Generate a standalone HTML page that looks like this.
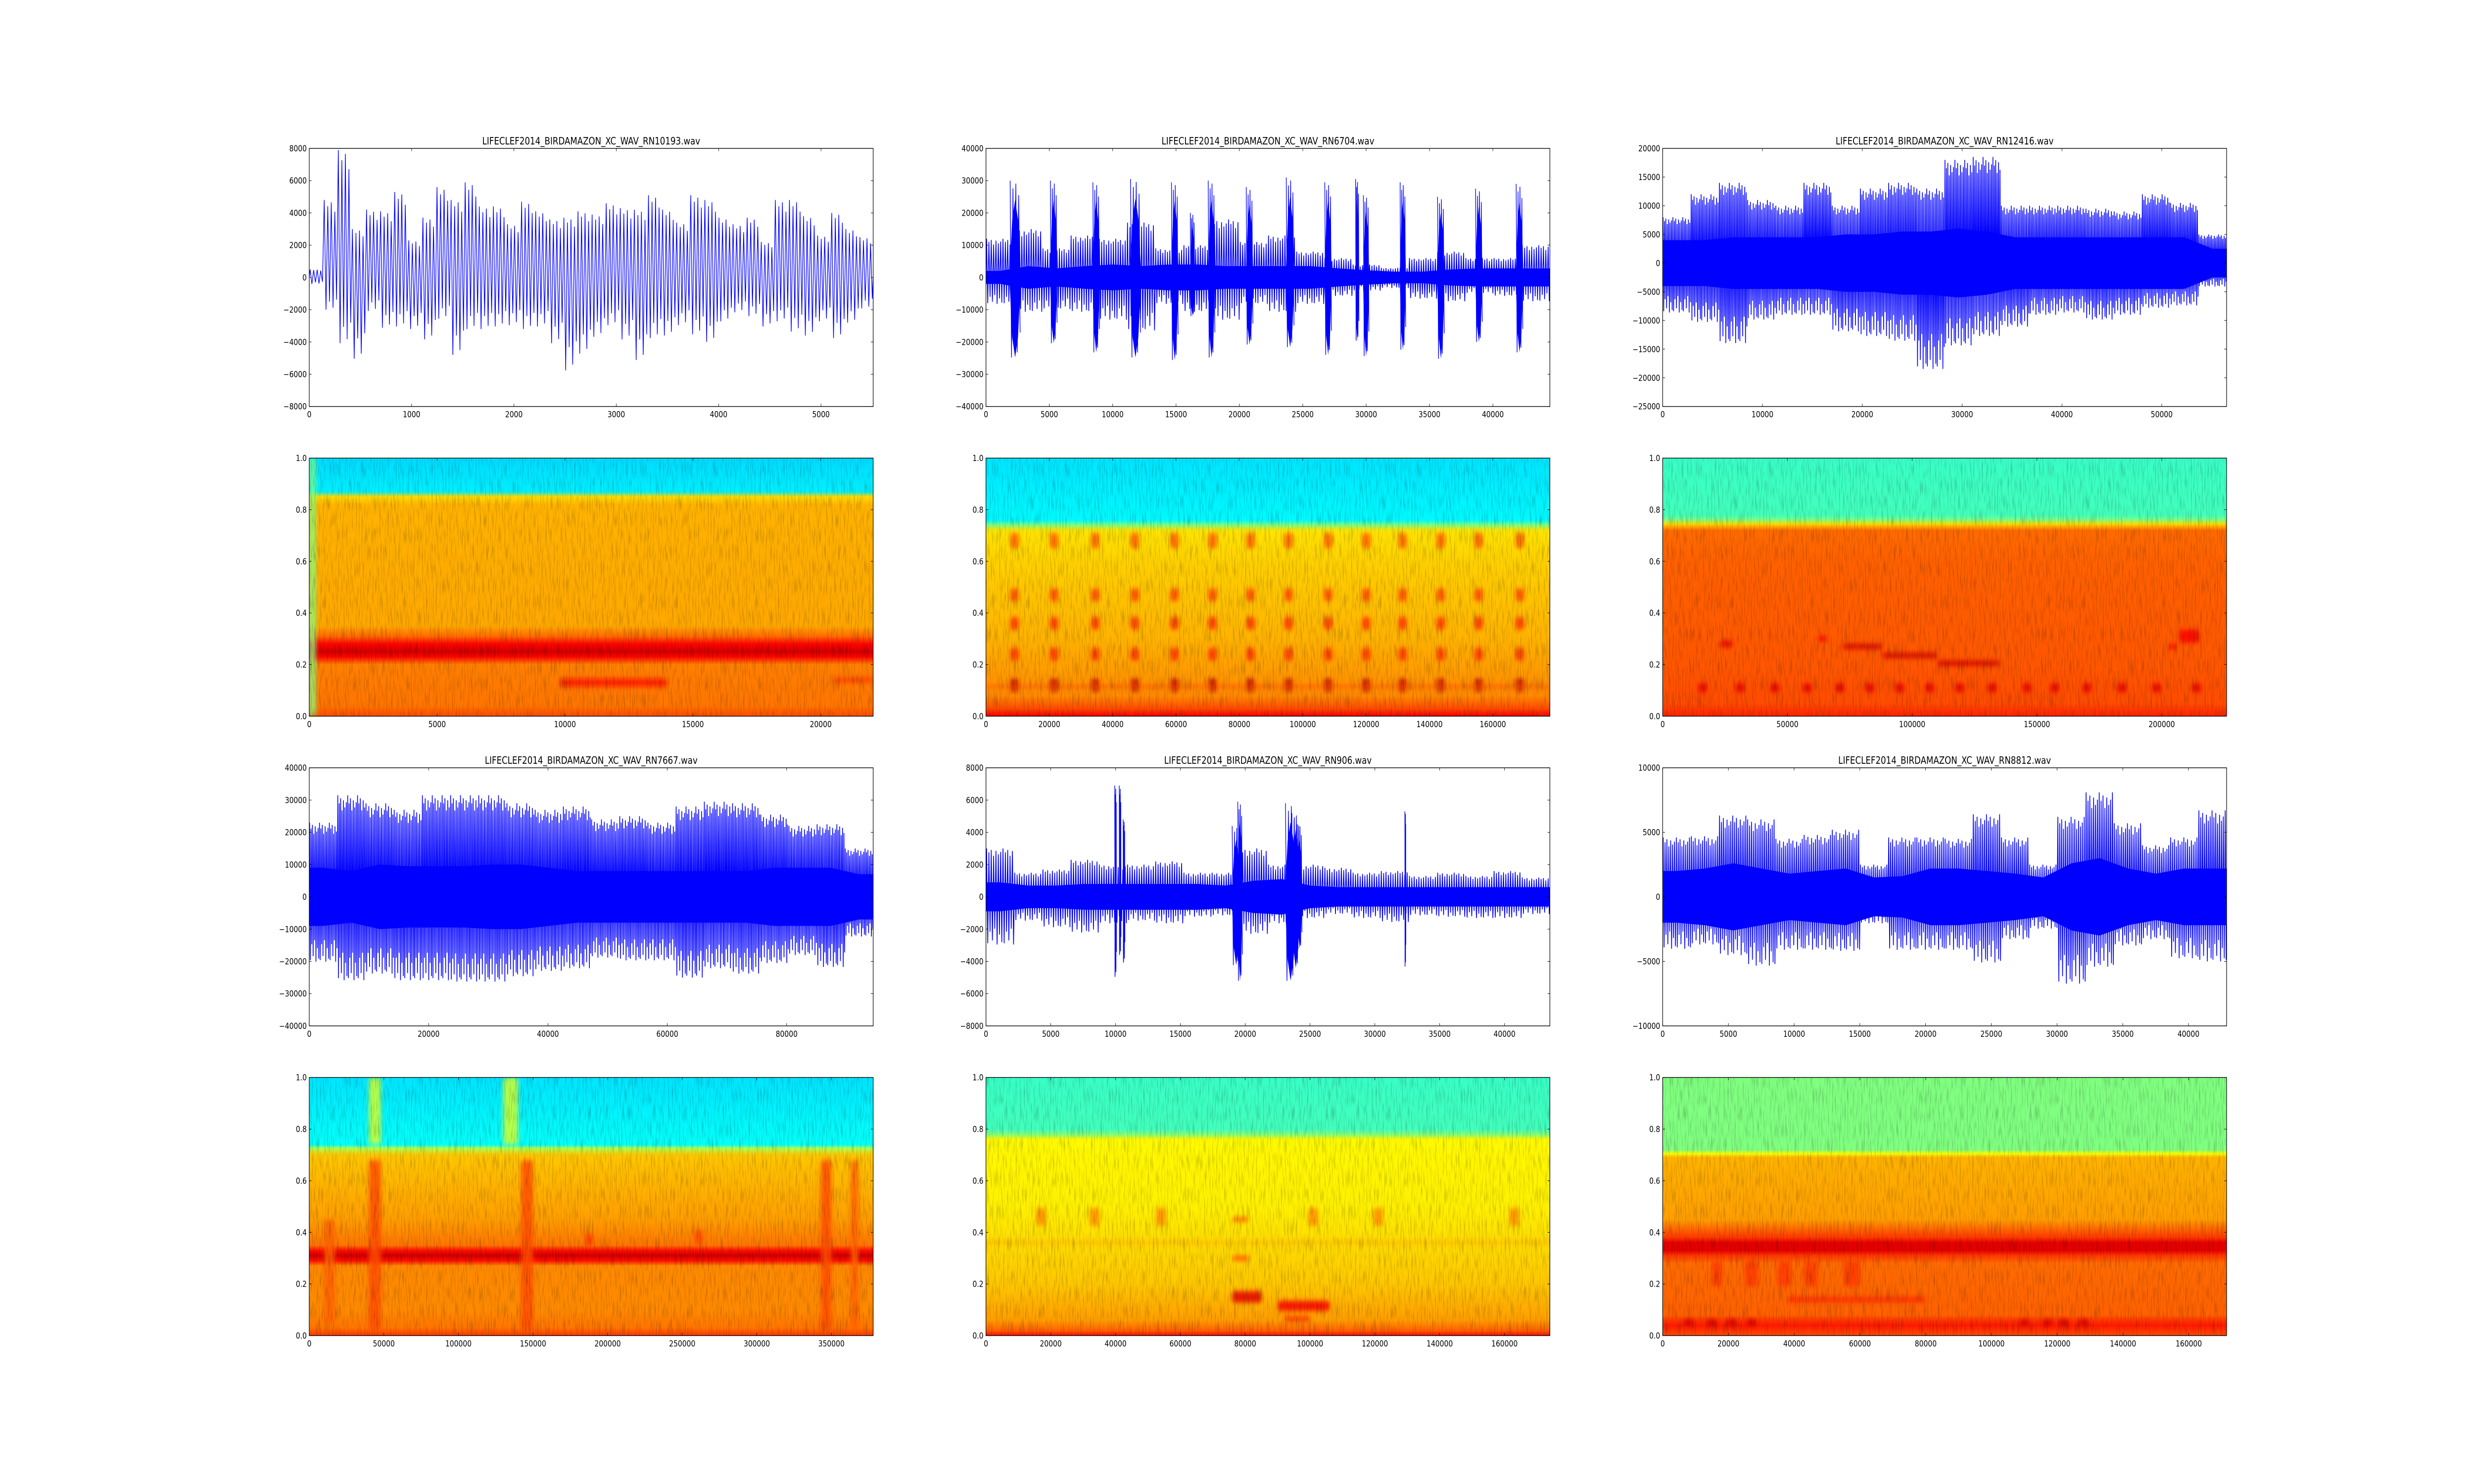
<!DOCTYPE html>
<html><head><meta charset="utf-8"><title>Bird recordings: waveforms and spectrograms</title>
<style>
html,body{margin:0;padding:0;background:#fff;overflow:hidden;width:100%;height:100%;}
svg{display:block;position:absolute;left:0;top:0;width:100vw;height:100vh;}
text{font-family:"DejaVu Sans","Liberation Sans",sans-serif;font-size:16.7px;fill:#000;}
text.title{font-size:20px;}
</style></head>
<body>
<svg id="chart" xmlns="http://www.w3.org/2000/svg" viewBox="0 0 6000 3000" preserveAspectRatio="none">
<rect x="0" y="0" width="6000" height="3000" fill="#fff"/>
<defs>
<filter id="blur" x="-50%" y="-50%" width="200%" height="200%"><feGaussianBlur stdDeviation="5"/></filter>
<filter id="tex" x="0" y="0" width="100%" height="100%">
<feTurbulence type="fractalNoise" baseFrequency="0.3 0.03" numOctaves="2" seed="3" result="n"/>
<feColorMatrix in="n" type="matrix" values="0 0 0 0 0  0 0 0 0 0  0 0 0 0 0  2.2 0 0 0 -1.0"/>
</filter>
</defs>
</svg>
<script>
// ---------- Waveform data (sample index on x, amplitude on y) ----------
// Panel RN10193
const w1Hi=[500,4800,7900,3000,4200,4100,5300,2300,3700,5600,4800,5900,4400,4400,3300,4700,4100,3600,3700,4100,3900,4600,4300,4200,5100,4200,3400,5100,4800,3700,3300,3700,2200,4800,4800,3800,2600,4000,3000,2500];
const w1Lo=[-500,-2500,-5100,-6300,-2600,-3900,-3800,-4000,-4800,-3200,-6000,-4000,-4000,-3800,-3700,-4000,-3800,-5100,-7200,-5900,-4600,-3700,-4800,-6400,-4700,-4500,-3700,-4400,-5000,-3400,-2700,-3000,-3800,-3400,-4200,-4500,-3400,-4700,-3500,-2400];
// Panel RN6704
const w2Core=[2000,3500,2800,3500,4000,3500,4000,4000,3500,3500,3500,3500,2800,2200,1800,1800,2500,2800,2800,2800];
const w2Hi=[12000,15000,9000,13000,12000,17000,9000,10000,18000,11000,13000,8000,6000,4000,3000,6000,8000,6000,6000,10000];
const w2Lo=[-10000,-13000,-12000,-13000,-16000,-20000,-10000,-13000,-16000,-10000,-13000,-10000,-7000,-5000,-4000,-8000,-9000,-6000,-7000,-9000];
const w2EvX=[2300,5350,8700,11800,14900,16300,17800,20800,24000,27000,29300,30000,32900,35900,38900,42100];
const w2EvHi=[30000,30000,29500,30500,29500,20000,30000,28000,31000,29500,30500,25500,29500,25000,27500,29000];
const w2EvLo=[-31000,-25500,-29000,-31000,-32000,-15000,-31000,-26000,-27000,-30000,-24500,-30500,-28000,-31500,-25000,-29000];
const w2EvW=[900,600,600,900,600,400,600,600,700,600,300,500,500,600,600,600];
// Panel RN12416
const w3Core=[4000,4000,4500,4500,4500,4500,5000,5000,5500,5500,6000,5500,4500,4500,4500,4500,4500,4500,4500,2500];
const w3Hi=[8000,12000,14000,11000,10000,14000,10000,13000,14000,13000,18000,18500,10000,10000,10000,9500,9000,12000,10500,5000];
const w3Lo=[-10500,-12500,-17000,-12000,-11000,-11000,-14500,-15500,-16500,-22500,-17500,-15500,-13500,-11000,-10500,-12000,-11000,-9500,-9000,-5000];
// Panel RN7667
const w4Core=[9000,8000,10000,9500,9500,9500,10000,10000,9000,8000,8000,8000,8000,8000,8000,8000,9000,9000,9000,7000];
const w4Hi=[23000,31500,29000,27000,31500,31500,31500,29000,27000,28000,24000,25000,23000,28000,29500,29000,25500,22000,22500,15000];
const w4Lo=[-24500,-31500,-29000,-31500,-31500,-32000,-32000,-30000,-28000,-27000,-23000,-24000,-24000,-30500,-27000,-29000,-25000,-22000,-26500,-15000];
// Panel RN906
const w5Core=[900,700,700,800,800,800,800,800,700,1000,1100,700,600,600,600,600,600,600,600,600];
const w5Hi=[3000,1500,1700,2300,2000,2000,2200,1500,1500,3000,2000,2000,1800,1500,1600,1300,1500,1300,1600,1200];
const w5Lo=[-3600,-1800,-2300,-2700,-2000,-1800,-2000,-1500,-1400,-2800,-2000,-1600,-1300,-1600,-1900,-1400,-1500,-1600,-1600,-1300];
const w5EvX=[10000,10350,10650,19300,19600,23500,23900,24200,32350];
const w5EvHi=[6900,6900,4800,4400,5900,5800,5200,4500,5300];
const w5EvLo=[-6200,-4500,-5100,-5300,-6500,-6500,-5500,-4000,-5400];
const w5EvW=[150,150,150,700,400,900,700,400,80];
// Panel RN8812
const w6Core=[2000,2200,2600,2200,1800,2000,2200,1500,1600,2200,2200,2000,1800,1500,2600,3000,2200,1800,2200,2200];
const w6Hi=[4600,4700,6300,6000,4500,4800,5200,2500,4600,4600,4500,6400,4600,2500,6200,8100,5700,4000,4600,6700];
const w6Lo=[-4900,-4500,-5500,-6500,-5000,-5000,-5100,-2500,-5000,-5000,-5000,-6200,-4000,-3000,-8200,-6600,-4600,-4000,-5800,-6100];

// ---------- Axis tick labels ----------
const w1XT=[0,1000,2000,3000,4000,5000], w1YT=[-8000,-6000,-4000,-2000,0,2000,4000,6000,8000];
const w2XT=[0,5000,10000,15000,20000,25000,30000,35000,40000], w2YT=[-40000,-30000,-20000,-10000,0,10000,20000,30000,40000];
const w3XT=[0,10000,20000,30000,40000,50000], w3YT=[-25000,-20000,-15000,-10000,-5000,0,5000,10000,15000,20000];
const w4XT=[0,20000,40000,60000,80000], w4YT=[-40000,-30000,-20000,-10000,0,10000,20000,30000,40000];
const w5XT=[0,5000,10000,15000,20000,25000,30000,35000,40000], w5YT=[-8000,-6000,-4000,-2000,0,2000,4000,6000,8000];
const w6XT=[0,5000,10000,15000,20000,25000,30000,35000,40000], w6YT=[-10000,-5000,0,5000,10000];
const sYT=[0,0.2,0.4,0.6,0.8,1.0];
const s1XT=[0,5000,10000,15000,20000];
const s2XT=[0,20000,40000,60000,80000,100000,120000,140000,160000];
const s3XT=[0,50000,100000,150000,200000];
const s4XT=[0,50000,100000,150000,200000,250000,300000,350000];
const s5XT=[0,20000,40000,60000,80000,100000,120000,140000,160000];
const s6XT=[0,20000,40000,60000,80000,100000,120000,140000,160000];

// ---------- Spectrogram data (normalized frequency -> intensity level 0..1, jet colormap) ----------
const s1Freq=[0,0.04,0.2,0.23,0.25,0.28,0.31,0.35,0.82,0.85,0.87,1];
const s1Lev=[0.8,0.76,0.75,0.87,0.92,0.87,0.77,0.71,0.7,0.66,0.36,0.34];
const s1FX0=[9800,20500,0], s1FX1=[14000,22050,250], s1FY=[0.13,0.14,0.5], s1FH=[0.03,0.02,1.0], s1FL=[0.86,0.82,0.5];

const s2Freq=[0,0.03,0.08,0.3,0.6,0.72,0.74,0.76,1];
const s2Lev=[0.88,0.8,0.74,0.7,0.67,0.65,0.5,0.37,0.35];
const s2CallX=[9000,21500,34500,47000,59500,71500,83500,95500,108000,120000,131500,143500,155500,168500];
const s2HarmY=[0.12,0.24,0.36,0.47,0.68];
const s2HarmH=[0.05,0.05,0.05,0.05,0.06];
const s2HarmL=[0.93,0.83,0.83,0.81,0.79];

const s3Freq=[0,0.05,0.2,0.6,0.72,0.745,0.76,0.78,1];
const s3Lev=[0.84,0.8,0.79,0.78,0.77,0.66,0.5,0.44,0.43];
const s3FX0=[72000,88000,110000,23000,62000,203000,207000];
const s3FX1=[88000,110000,135000,28000,66000,206000,215000];
const s3FY=[0.27,0.235,0.205,0.28,0.3,0.27,0.31];
const s3FH=[0.02,0.02,0.02,0.025,0.02,0.02,0.05];
const s3FL=[0.92,0.92,0.92,0.9,0.88,0.88,0.88];
const s3ChirpX=[16000,31000,45000,58000,71000,83000,95000,107000,119000,132000,146000,157000,170000,184000,198000,214000];
const s3ChirpY=0.11;

const s4Freq=[0,0.03,0.1,0.27,0.29,0.31,0.33,0.35,0.45,0.7,0.725,0.74,1];
const s4Lev=[0.82,0.76,0.74,0.74,0.86,0.92,0.86,0.76,0.72,0.68,0.55,0.38,0.35];
const s4FX0=[40000,142000,343000,363000,10000,40000,130000,185000,258000];
const s4FX1=[48000,150000,350000,368000,17000,48000,140000,190000,264000];
const s4FY=[0.35,0.35,0.35,0.35,0.25,0.87,0.87,0.37,0.38];
const s4FH=[0.66,0.66,0.66,0.66,0.4,0.26,0.26,0.05,0.06];
const s4FL=[0.8,0.8,0.8,0.78,0.78,0.58,0.58,0.82,0.8];

const s5Freq=[0,0.02,0.06,0.2,0.5,0.76,0.78,0.8,1];
const s5Lev=[0.86,0.78,0.72,0.68,0.64,0.63,0.5,0.44,0.43];
const s5FX0=[76000,90000,92000,76000,76000,0];
const s5FX1=[85000,106000,100000,81000,81000,174000];
const s5FY=[0.15,0.115,0.065,0.3,0.45,0.36];
const s5FH=[0.045,0.04,0.02,0.02,0.02,0.012];
const s5FL=[0.9,0.88,0.84,0.8,0.78,0.7];
const s5BlobX=[17000,33500,54000,101000,121000,163000];
const s5BlobY=0.46;

const s6Freq=[0,0.04,0.06,0.08,0.28,0.31,0.33,0.36,0.38,0.45,0.69,0.705,0.72,1];
const s6Lev=[0.8,0.85,0.82,0.78,0.77,0.82,0.9,0.9,0.82,0.72,0.7,0.62,0.5,0.5];
const s6DotX=[8000,15000,21000,27000,110000,117000,122000,128000];
const s6DotY=0.05;
const s6FX0=[15000,25000,35000,43000,55000,38000];
const s6FX1=[18000,29000,39000,47000,60000,80000];
const s6FY=[0.24,0.24,0.24,0.24,0.24,0.14];
const s6FH=[0.1,0.1,0.1,0.1,0.1,0.02];
const s6FL=[0.82,0.82,0.82,0.82,0.82,0.84];

// ---------- rendering ----------
const NS='http://www.w3.org/2000/svg';
const svg=document.getElementById('chart');
const defs=svg.querySelector('defs');
function mk(tag,attrs,parent){const e=document.createElementNS(NS,tag);for(const k in attrs)e.setAttribute(k,attrs[k]);parent.appendChild(e);return e;}
const AW=1367.647, AH=521.739, GX=273.53, GY=104.348;
function box(col,row){return {x:750+col*(AW+GX), y:300+row*(AH+GY), w:AW, h:AH};}
const PAT=[1,0.8,0.92,0.6,0.97,0.75,0.85,0.55,0.95,0.82,0.88,0.65,0.93,0.78];
function clamp(v){return Math.max(0,Math.min(1,v));}
function jet(v){const r=clamp(1.5-Math.abs(4*v-3)),g=clamp(1.5-Math.abs(4*v-2)),b=clamp(1.5-Math.abs(4*v-1));
 return 'rgb('+Math.round(r*255)+','+Math.round(g*255)+','+Math.round(b*255)+')';}
function fmt(v,dec){let s=dec?v.toFixed(1):String(v);return s.replace('-','\u2212');}
let clipN=0;
function clipFor(b){const id='clip'+(clipN++);const cp=mk('clipPath',{id:id},defs);mk('rect',{x:b.x,y:b.y,width:b.w,height:b.h},cp);return id;}

function drawAxes(b,xmax,ymin,ymax,xt,yt,dec,name,title){
 const sx=v=>b.x+v/xmax*b.w, sy=v=>b.y+(ymax-v)/(ymax-ymin)*b.h;
 const g=mk('g',{},svg);
 
 
 const fr=mk('rect',{x:b.x,y:b.y,width:b.w,height:b.h,fill:'none',stroke:'#000','stroke-width':1.4},g);
 
 
 xt.forEach(v=>{const x=sx(v);
  const t1=mk('line',{x1:x,y1:b.y+b.h,x2:x,y2:b.y+b.h-5.6,stroke:'#000','stroke-width':1},g);
  
  
  const t2=mk('line',{x1:x,y1:b.y,x2:x,y2:b.y+5.6,stroke:'#000','stroke-width':1},g);
  
  
  const tx=mk('text',{x:x,y:b.y+b.h+22,'text-anchor':'middle'},g);tx.textContent=fmt(v,false);
  
  
 });
 yt.forEach(v=>{const y=sy(v);
  const t1=mk('line',{x1:b.x,y1:y,x2:b.x+5.6,y2:y,stroke:'#000','stroke-width':1},g);
  
  
  const t2=mk('line',{x1:b.x+b.w,y1:y,x2:b.x+b.w-5.6,y2:y,stroke:'#000','stroke-width':1},g);
  
  
  const tx=mk('text',{x:b.x-6,y:y+6,'text-anchor':'end'},g);tx.textContent=fmt(v,dec);
  
  
 });
 if(title){const tt=mk('text',{x:b.x+b.w/2,y:b.y-8,'text-anchor':'middle','class':'title'},g);tt.textContent=title;
  
  }
}

function zig(pts,x0,x1,hi,lo,K){for(let k=0;k<K;k++){const x=x0+(k+0.5)/K*(x1-x0);const p=PAT[k%PAT.length];pts.push([x,(k%2===0?hi:lo)*p]);}}

function drawWave(b,xmax,ymin,ymax,core,hi,lo,evX,evHi,evLo,evW,K,sw,name){
 const sx=v=>b.x+v/xmax*b.w, sy=v=>b.y+(ymax-v)/(ymax-ymin)*b.h;
 const g=mk('g',{'clip-path':'url(#'+clipFor(b)+')'},svg);
 
 
 const n=hi.length, bw=xmax/n;
 if(core){
  const top=[],bot=[];
  top.push([0,core[0]]);
  for(let i=0;i<n;i++){top.push([(i+0.5)*bw,core[i]]);}
  top.push([xmax,core[n-1]]);
  for(let i=top.length-1;i>=0;i--)bot.push([top[i][0],-top[i][1]]);
  const all=top.concat(bot).map(p=>sx(p[0]).toFixed(1)+','+sy(p[1]).toFixed(1)).join(' ');
  const pc=mk('polygon',{points:all,fill:'#0000ff'},g);
  
  
 }
 const pts=[[0,0]];
 for(let i=0;i<n;i++)zig(pts,i*bw,(i+1)*bw,hi[i],lo[i],K);
 pts.push([xmax,0]);
 const pl=mk('polyline',{points:pts.map(p=>sx(p[0]).toFixed(1)+','+sy(p[1]).toFixed(1)).join(' '),fill:'none',stroke:'#0000ff','stroke-width':sw},g);
 
 
 if(evX){evX.forEach((x,j)=>{
  const h=evHi[j],l=evLo[j],w=evW[j];
  const poly=[[x-w/2,0],[x-w/4,h*0.6],[x,h*0.8],[x+w/4,h*0.6],[x+w/2,0],[x+w/4,l*0.6],[x,l*0.8],[x-w/4,l*0.6]];
  const pe=mk('polygon',{points:poly.map(p=>sx(p[0]).toFixed(1)+','+sy(p[1]).toFixed(1)).join(' '),fill:'#0000ff'},g);
  
  
  const zp=[];zig(zp,x-w/2,x+w/2,h,l,8);
  const ze=mk('polyline',{points:zp.map(p=>sx(p[0]).toFixed(1)+','+sy(p[1]).toFixed(1)).join(' '),fill:'none',stroke:'#0000ff','stroke-width':1.6},g);
  
  
 });}
}

let gradN=0;
function drawSpec(b,xmax,freq,lev,fx0,fx1,fy,fh,fl,name){
 const sx=v=>b.x+v/xmax*b.w, sy=v=>b.y+(1-v)*b.h;
 const id='grad'+(gradN++);
 const lg=mk('linearGradient',{id:id,x1:0,y1:1,x2:0,y2:0},defs);
 freq.forEach((f,i)=>{mk('stop',{offset:f,'stop-color':jet(lev[i])},lg);});
 const g=mk('g',{'clip-path':'url(#'+clipFor(b)+')'},svg);
 
 
 const bg=mk('rect',{x:b.x,y:b.y,width:b.w,height:b.h,fill:'url(#'+id+')'},g);
 
 
 const fg=mk('g',{filter:'url(#blur)'},g);
 fx0.forEach((x0,i)=>{
  const r=mk('rect',{x:sx(x0),y:sy(fy[i]+fh[i]/2),width:Math.max(2,sx(fx1[i])-sx(x0)),height:fh[i]*b.h,rx:6,fill:jet(fl[i]),opacity:0.85},fg);
  
  
 });
 const tx=mk('rect',{x:b.x,y:b.y,width:b.w,height:b.h,filter:'url(#tex)',opacity:0.22},g);
 
 
}

const B=[[box(0,0),box(1,0),box(2,0)],[box(0,1),box(1,1),box(2,1)],[box(0,2),box(1,2),box(2,2)],[box(0,3),box(1,3),box(2,3)]];
// Row 0: waveforms
drawWave(B[0][0],5510,-8000,8000,null,w1Hi,w1Lo,null,null,null,null,8,1.6,'rn10193');
drawAxes(B[0][0],5510,-8000,8000,w1XT,w1YT,false,'rn10193-wave','LIFECLEF2014_BIRDAMAZON_XC_WAV_RN10193.wav');
drawWave(B[0][1],44500,-40000,40000,w2Core,w2Hi,w2Lo,w2EvX,w2EvHi,w2EvLo,w2EvW,24,1.9,'rn6704');
drawAxes(B[0][1],44500,-40000,40000,w2XT,w2YT,false,'rn6704-wave','LIFECLEF2014_BIRDAMAZON_XC_WAV_RN6704.wav');
drawWave(B[0][2],56500,-25000,20000,w3Core,w3Hi,w3Lo,null,null,null,null,40,1.9,'rn12416');
drawAxes(B[0][2],56500,-25000,20000,w3XT,w3YT,false,'rn12416-wave','LIFECLEF2014_BIRDAMAZON_XC_WAV_RN12416.wav');

// Row 1: spectrograms
drawSpec(B[1][0],22050,s1Freq,s1Lev,s1FX0,s1FX1,s1FY,s1FH,s1FL,'rn10193');
drawAxes(B[1][0],22050,0,1,s1XT,sYT,true,'rn10193-spec',null);
{const X0=[],X1=[],Y=[],H=[],L=[];
 s2CallX.forEach(x=>{s2HarmY.forEach((y,k)=>{X0.push(x-1300);X1.push(x+1300);Y.push(y);H.push(s2HarmH[k]);L.push(s2HarmL[k]);});});
 X0.push(0);X1.push(178000);Y.push(0.115);H.push(0.01);L.push(0.8);
 drawSpec(B[1][1],178000,s2Freq,s2Lev,X0,X1,Y,H,L,'rn6704');}
drawAxes(B[1][1],178000,0,1,s2XT,sYT,true,'rn6704-spec',null);
{const X0=s3FX0.slice(),X1=s3FX1.slice(),Y=s3FY.slice(),H=s3FH.slice(),L=s3FL.slice();
 s3ChirpX.forEach(x=>{X0.push(x-1800);X1.push(x+1800);Y.push(s3ChirpY);H.push(0.035);L.push(0.9);});
 drawSpec(B[1][2],226000,s3Freq,s3Lev,X0,X1,Y,H,L,'rn12416');}
drawAxes(B[1][2],226000,0,1,s3XT,sYT,true,'rn12416-spec',null);

// Row 2: waveforms
drawWave(B[2][0],94500,-40000,40000,w4Core,w4Hi,w4Lo,null,null,null,null,40,1.9,'rn7667');
drawAxes(B[2][0],94500,-40000,40000,w4XT,w4YT,false,'rn7667-wave','LIFECLEF2014_BIRDAMAZON_XC_WAV_RN7667.wav');
drawWave(B[2][1],43500,-8000,8000,w5Core,w5Hi,w5Lo,w5EvX,w5EvHi,w5EvLo,w5EvW,24,1.9,'rn906');
drawAxes(B[2][1],43500,-8000,8000,w5XT,w5YT,false,'rn906-wave','LIFECLEF2014_BIRDAMAZON_XC_WAV_RN906.wav');
drawWave(B[2][2],42900,-10000,10000,w6Core,w6Hi,w6Lo,null,null,null,null,30,1.9,'rn8812');
drawAxes(B[2][2],42900,-10000,10000,w6XT,w6YT,false,'rn8812-wave','LIFECLEF2014_BIRDAMAZON_XC_WAV_RN8812.wav');

// Row 3: spectrograms
drawSpec(B[3][0],378000,s4Freq,s4Lev,s4FX0,s4FX1,s4FY,s4FH,s4FL,'rn7667');
drawAxes(B[3][0],378000,0,1,s4XT,sYT,true,'rn7667-spec',null);
{const X0=s5FX0.slice(),X1=s5FX1.slice(),Y=s5FY.slice(),H=s5FH.slice(),L=s5FL.slice();
 s5BlobX.forEach(x=>{X0.push(x-1500);X1.push(x+1500);Y.push(s5BlobY);H.push(0.07);L.push(0.74);});
 drawSpec(B[3][1],174000,s5Freq,s5Lev,X0,X1,Y,H,L,'rn906');}
drawAxes(B[3][1],174000,0,1,s5XT,sYT,true,'rn906-spec',null);
{const X0=s6FX0.slice(),X1=s6FX1.slice(),Y=s6FY.slice(),H=s6FH.slice(),L=s6FL.slice();
 s6DotX.forEach(x=>{X0.push(x-1500);X1.push(x+1500);Y.push(s6DotY);H.push(0.025);L.push(0.92);});
 drawSpec(B[3][2],171500,s6Freq,s6Lev,X0,X1,Y,H,L,'rn8812');}
drawAxes(B[3][2],171500,0,1,s6XT,sYT,true,'rn8812-spec',null);
</script>
</body></html>
